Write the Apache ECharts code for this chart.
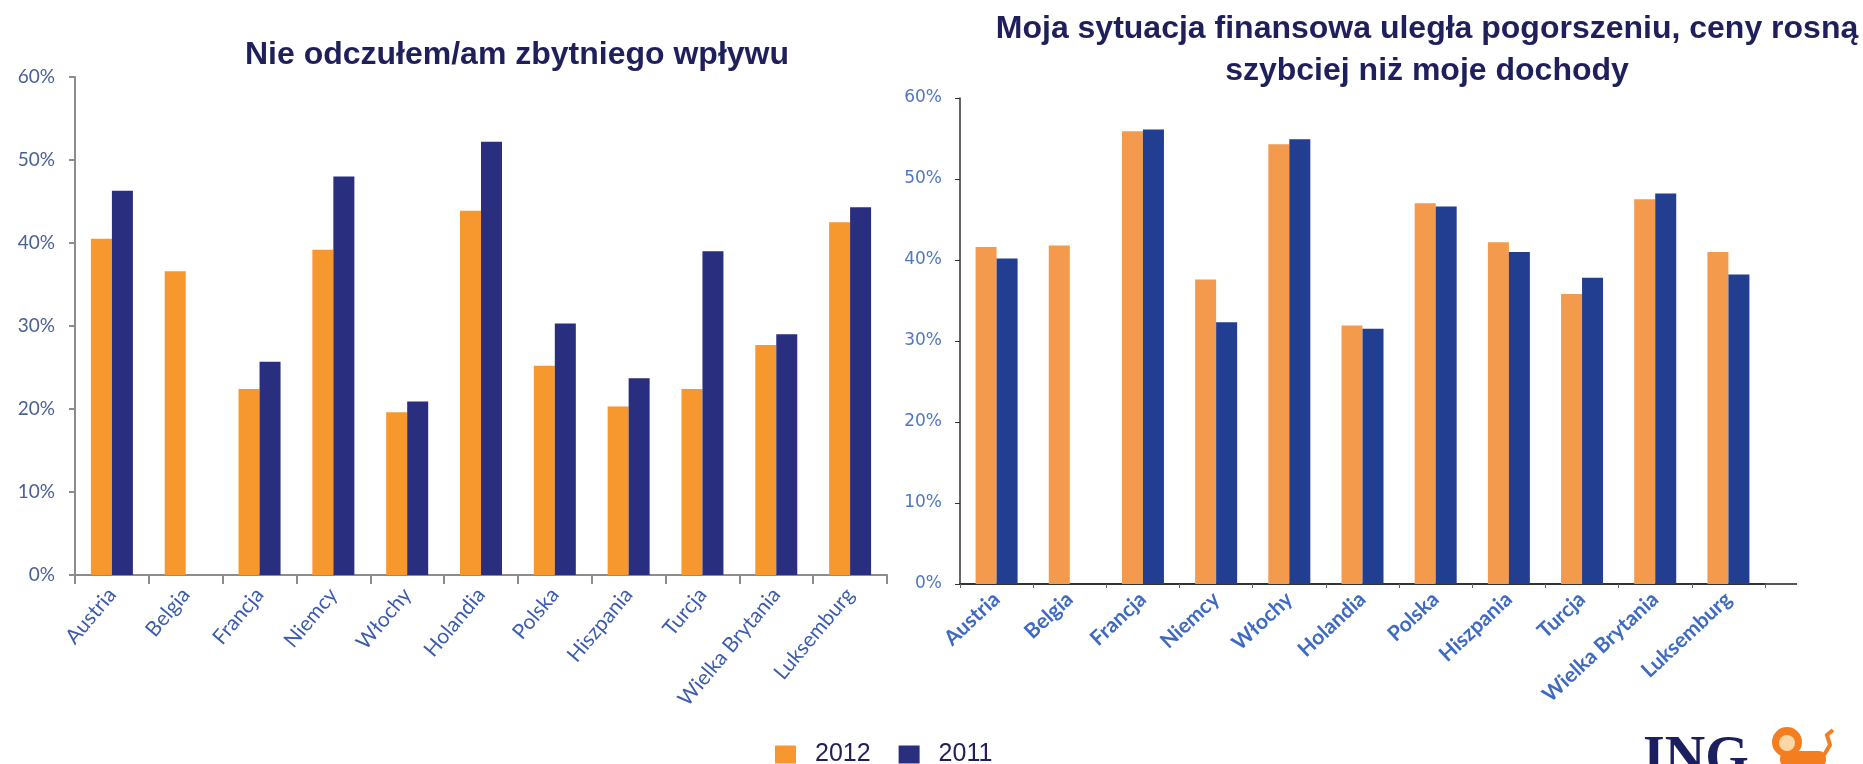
<!DOCTYPE html>
<html>
<head>
<meta charset="utf-8">
<title>Wpływ kryzysu</title>
<script src="https://cdn.jsdelivr.net/npm/echarts@6/dist/echarts.min.js"></script>
<style>
  html, body { margin: 0; padding: 0; background: #fff; }
  #main { width: 1863px; height: 764px; }
</style>
</head>
<body>
<div id="main"></div>
<script>
// kraje (oś X w obu wykresach)
var countries = ['Austria', 'Belgia', 'Francja', 'Niemcy', 'Włochy', 'Holandia',
  'Polska', 'Hiszpania', 'Turcja', 'Wielka Brytania', 'Luksemburg'];

// "Nie odczułem/am zbytniego wpływu" (%)
var noImpact2012 = [40.5, 36.6, 22.4, 39.2, 19.6, 43.9, 25.2, 20.3, 22.4, 27.7, 42.5];
var noImpact2011 = [46.3, null, 25.7, 48.0, 20.9, 52.2, 30.3, 23.7, 39.0, 29.0, 44.3];

// "Moja sytuacja finansowa uległa pogorszeniu..." (%)
var worse2012 = [41.6, 41.8, 55.9, 37.6, 54.3, 31.9, 47.0, 42.2, 35.8, 47.5, 41.0];
var worse2011 = [40.2, null, 56.1, 32.3, 54.9, 31.5, 46.6, 41.0, 37.8, 48.2, 38.2];

var yTicks = { min: 0, max: 60, interval: 10 };

var chart = echarts.init(document.getElementById('main'), null, { renderer: 'canvas' });

var navyText = '#1f1f5c';

var option = {
  animation: false,
  title: [
    {
      text: 'Nie odczułem/am zbytniego wpływu',
      left: 512,
      top: 34,
      textAlign: 'center',
      textStyle: { fontFamily: 'Liberation Sans', fontWeight: 'bold', fontSize: 32, color: navyText }
    },
    {
      text: 'Moja sytuacja finansowa uległa pogorszeniu, ceny rosną\nszybciej niż moje dochody',
      left: 1422,
      top: 3,
      textAlign: 'center',
      textStyle: { fontFamily: 'Liberation Sans', fontWeight: 'bold', fontSize: 32, color: navyText, lineHeight: 42 }
    }
  ],
  legend: {
    left: 770,
    top: 737,
    itemWidth: 21,
    itemHeight: 18,
    itemGap: 28,
    icon: 'rect',
    data: ['2012', '2011'],
    textStyle: { fontFamily: 'Liberation Sans', fontSize: 25, color: navyText, padding: [0, 0, 0, 14] }
  },
  grid: [
    { left: 75, top: 77, width: 812, height: 498 },
    { left: 960, top: 98, width: 805, height: 486 }
  ],
  xAxis: [
    {
      type: 'category',
      gridIndex: 0,
      data: countries,
      axisLine: { lineStyle: { color: '#8c8c8c', width: 2 } },
      axisTick: { show: true, length: 9, lineStyle: { color: '#8c8c8c', width: 2 } },
      axisLabel: {
        interval: 0, rotate: 50, margin: 16,
        fontFamily: 'Lato', fontSize: 21, color: '#3b5cae'
      }
    },
    {
      type: 'category',
      gridIndex: 1,
      data: countries,
      axisLine: { lineStyle: { color: '#333', width: 2 } },
      axisTick: { show: true, length: 4, lineStyle: { color: '#666' } },
      axisLabel: {
        interval: 0, rotate: 43, margin: 12,
        fontFamily: 'Lato', fontWeight: 'bold', fontSize: 21, color: '#3e6ac2'
      }
    }
  ],
  yAxis: [
    {
      type: 'value',
      gridIndex: 0,
      min: yTicks.min, max: yTicks.max, interval: yTicks.interval,
      splitLine: { show: false },
      axisLine: { show: true, lineStyle: { color: '#8c8c8c', width: 2 } },
      axisTick: { show: true, length: 6, lineStyle: { color: '#8c8c8c', width: 2 } },
      axisLabel: { formatter: '{value}%', margin: 20, fontFamily: 'Lato', fontSize: 19, color: '#4a6096' }
    },
    {
      type: 'value',
      gridIndex: 1,
      min: yTicks.min, max: yTicks.max, interval: yTicks.interval,
      splitLine: { show: false },
      axisLine: { show: true, lineStyle: { color: '#333', width: 1.5 } },
      axisTick: { show: true, length: 5, lineStyle: { color: '#333' } },
      axisLabel: { formatter: '{value}%', margin: 18, fontFamily: 'DejaVu Sans', fontSize: 17, color: '#4f77c6' }
    }
  ],
  series: [
    { name: '2012', type: 'bar', xAxisIndex: 0, yAxisIndex: 0, data: noImpact2012,
      barWidth: 21, barGap: '0%', itemStyle: { color: '#f7982f' } },
    { name: '2011', type: 'bar', xAxisIndex: 0, yAxisIndex: 0, data: noImpact2011,
      barWidth: 21, barGap: '0%', itemStyle: { color: '#292e7e' } },
    { name: '2012', type: 'bar', xAxisIndex: 1, yAxisIndex: 1, data: worse2012,
      barWidth: 21, barGap: '0%', itemStyle: { color: '#f39a4c' } },
    { name: '2011', type: 'bar', xAxisIndex: 1, yAxisIndex: 1, data: worse2011,
      barWidth: 21, barGap: '0%', itemStyle: { color: '#213e90' } }
  ],
  graphic: [
    // przedłużenie osi X prawego wykresu
    { type: 'line', shape: { x1: 1765, y1: 584, x2: 1797, y2: 584 }, style: { stroke: '#555', lineWidth: 2 } },
    // logo ING
    { type: 'text', left: 1643, top: 733,
      style: { text: 'ING', font: 'bold 56px "Liberation Serif"', fill: '#1b1f5f' } },
    { type: 'group', left: 1772, top: 727, children: [
      { type: 'circle', shape: { cx: 15, cy: 17, r: 15 }, style: { fill: '#f47d20' } },
      { type: 'circle', shape: { cx: 15, cy: 18, r: 8 }, style: { fill: '#fbd7a8' } },
      { type: 'rect', shape: { x: 8, y: 26, width: 46, height: 16, r: 7 }, style: { fill: '#f47d20' } },
      { type: 'polyline', shape: { points: [[52, 30], [58, 20], [55, 10], [61, 5]] },
        style: { stroke: '#f47d20', lineWidth: 4, fill: null } }
    ] }
  ]
};

chart.setOption(option);
</script>
</body>
</html>
